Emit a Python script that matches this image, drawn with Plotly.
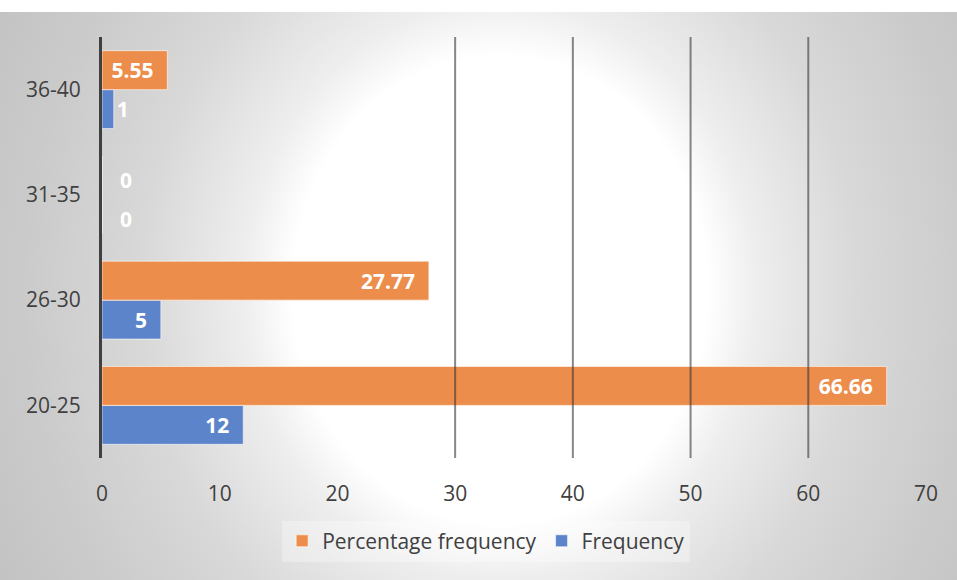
import plotly.graph_objects as go

# Age groups and their counts / shares
categories = ["20-25", "26-30", "31-35", "36-40"]
frequency = [12, 5, 0, 1]
percentage = [66.66, 27.77, 0, 5.55]
x_ticks = [0, 10, 20, 30, 40, 50, 60, 70]
grid_ticks = [30, 40, 50, 60]

FONT = "Open Sans"
TEXT_COL = "#404040"
PAD = "\u00a0\u00a0"
BAR_HALF = 19.5  # half of one bar's thickness in px, for zero-value labels
PLOT_X = [102 / 957, 926 / 957]
PLOT_Y = [1 - 458 / 580, 1 - 37 / 580]

fig = go.Figure()

# soft radial backdrop behind the chart (full-figure hidden axes)
fig.add_trace(go.Scatter(
    x=[-0.313, 1.358, 1.358, -0.313], y=[-1.074, -1.074, 2.095, 2.095],
    fill="toself", mode="none", hoverinfo="skip", showlegend=False,
    fillgradient=dict(type="radial",
                      colorscale=[[0, "#ffffff"], [0.26, "#ffffff"],
                                  [0.32, "#eeeeee"], [0.45, "#d8d8d8"],
                                  [0.6, "#cacaca"], [0.75, "#c0c0c0"],
                                  [1, "#b8b8b8"]]),
    xaxis="x", yaxis="y",
))

label_font = dict(family=FONT, size=21, color="white", weight="bold")

series = [
    ("Frequency", frequency, "#5b84ca", -BAR_HALF),
    ("Percentage frequency", percentage, "#ed8d4b", BAR_HALF),
]

for name, vals, color, shift in series:
    fig.add_trace(go.Bar(
        name=name, y=categories, x=vals, orientation="h",
        xaxis="x2", yaxis="y2",
        marker=dict(color=color, line=dict(color="rgba(255,255,255,0.6)", width=1)),
        text=[f"{v:g}" for v in vals], texttemplate="%{text}" + PAD,
        textposition="auto", insidetextanchor="end", constraintext="none",
        textfont=label_font, insidetextfont=label_font, outsidetextfont=label_font,
        cliponaxis=False, hoverinfo="skip",
    ))
    # zero-length bars carry no text of their own, so label them here
    for cat, v in zip(categories, vals):
        if v == 0:
            fig.add_annotation(
                x=v, y=cat, xref="x2", yref="y2", text=f"{v:g}",
                showarrow=False, xanchor="left", yanchor="middle",
                xshift=16, yshift=shift - 5, font=label_font,
            )

# vertical gridlines only at 30..60, laid semi-transparently over the bars
for g in grid_ticks:
    fig.add_shape(type="line", xref="x2", yref="y2 domain", x0=g, x1=g, y0=0, y1=1,
                  line=dict(color="rgba(55,55,55,0.6)", width=2), layer="above")

fig.update_layout(
    width=957, height=580,
    margin=dict(l=0, r=0, t=0, b=0, autoexpand=False),
    paper_bgcolor="white", plot_bgcolor="rgba(0,0,0,0)",
    barmode="group", bargap=0.26, bargroupgap=0,
    font=dict(family=FONT, size=21, color=TEXT_COL),
    xaxis=dict(domain=[0, 1], range=[0, 1], visible=False, fixedrange=True,
               automargin=False),
    yaxis=dict(domain=[0, 1 - 12 / 580], range=[0, 1], visible=False,
               fixedrange=True, automargin=False),
    xaxis2=dict(domain=PLOT_X, anchor="y2", range=[0, 70], tickvals=x_ticks,
                showgrid=False, zeroline=False, ticks="",
                ticklabelstandoff=21, tickfont=dict(size=21, color=TEXT_COL),
                automargin=False),
    yaxis2=dict(domain=PLOT_Y, anchor="x2", type="category",
                categoryorder="array", categoryarray=categories,
                showline=True, linecolor="#404040", linewidth=3,
                showgrid=False, ticks="", ticklabelstandoff=14,
                tickfont=dict(size=21, color=TEXT_COL), automargin=False),
    legend=dict(orientation="h", x=0.508, xanchor="center", y=0.067, yanchor="middle",
                bgcolor="rgba(255,255,255,0.3)", traceorder="reversed",
                font=dict(size=21, color=TEXT_COL), itemwidth=30),
    showlegend=True,
)

fig.write_html("out.html")
